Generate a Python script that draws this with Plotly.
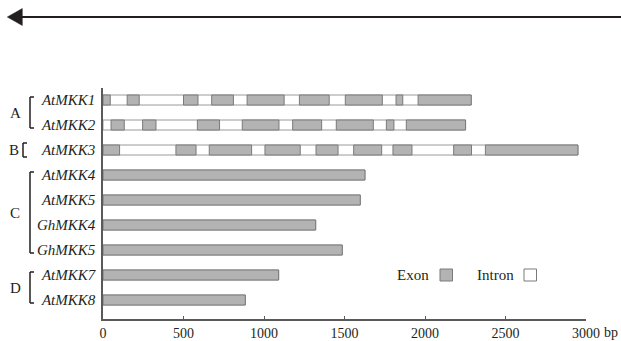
import plotly.graph_objects as go

# ---------------- data ----------------
genes = ["AtMKK1", "AtMKK2", "AtMKK3", "AtMKK4", "AtMKK5",
         "GhMKK4", "GhMKK5", "AtMKK7", "AtMKK8"]
gene_length = [2287, 2252, 2950, 1627, 1598, 1321, 1486, 1091, 884]
exon_starts = [
    [0, 150, 500, 675, 895, 1220, 1505, 1820, 1957],
    [50, 246, 586, 865, 1178, 1449, 1760, 1884],
    [0, 453, 660, 1006, 1323, 1557, 1801, 2178, 2375],
    [0], [0], [0], [0], [0], [0],
]
exon_ends = [
    [45, 225, 590, 810, 1125, 1405, 1735, 1862, 2287],
    [132, 329, 724, 1093, 1358, 1679, 1807, 2252],
    [103, 578, 923, 1225, 1460, 1731, 1919, 2289, 2950],
    [1627], [1598], [1321], [1486], [1091], [884],
]
groups = ["A", "B", "C", "D"]
group_first = [0, 2, 3, 7]
group_last = [1, 2, 6, 8]
x_ticks = [0, 500, 1000, 1500, 2000, 2500, 3000]
x_unit = "bp"

# ---------------- style ----------------
W, H = 621, 341
ML, MR, MT, MB = 103, 35, 88, 22
PW, PH = W - ML - MR, H - MT - MB
TXT = "#231f20"
EXON_FILL = "#b3b3b3"
EXON_LINE = "#7a7a7a"
INTRON_LINE = "#9a9a9a"
AXIS = "#5a5a5a"
SERIF = "Liberation Serif, Times New Roman, serif"


def px(xp):
    return (xp - ML) / PW


def py(yp):
    return (H - MB - yp) / PH


fig = go.Figure()

# whole gene (intron background)
fig.add_trace(go.Bar(
    y=genes, x=gene_length, base=[0] * len(genes), orientation="h",
    width=0.4, marker=dict(color="white", line=dict(color=INTRON_LINE, width=1)),
    showlegend=False, hoverinfo="skip"))

# exons
ey, ex, eb = [], [], []
for g, ss, ee in zip(genes, exon_starts, exon_ends):
    for s, e in zip(ss, ee):
        ey.append(g)
        ex.append(e - s)
        eb.append(s)
fig.add_trace(go.Bar(
    y=ey, x=ex, base=eb, orientation="h", width=0.4,
    marker=dict(color=EXON_FILL, line=dict(color=EXON_LINE, width=1)),
    showlegend=False))

shapes = []
annotations = []

# brackets and group letters
for gname, a, b in zip(groups, group_first, group_last):
    if a == b:
        xv, xt = px(23), px(27)
        y0, y1 = a - 0.28, a + 0.28
        xl = px(13.5)
    else:
        xv, xt = px(30), px(34)
        y0, y1 = a - 0.12, b + 0.12
        xl = px(15)
    for (x0, yy0, x1, yy1) in [(xv, y0, xv, y1), (xv, y0, xt, y0), (xv, y1, xt, y1)]:
        shapes.append(dict(type="line", xref="paper", yref="y",
                           x0=x0, y0=yy0, x1=x1, y1=yy1,
                           line=dict(color=TXT, width=1.5)))
    annotations.append(dict(xref="paper", yref="y", x=xl, y=(a + b) / 2,
                            text=gname, showarrow=False, xanchor="center",
                            yanchor="middle",
                            font=dict(family=SERIF, size=15, color=TXT)))

# top arrow (direction)
shapes.append(dict(type="line", xref="paper", yref="paper",
                   x0=px(20), x1=px(W + 2), y0=py(17), y1=py(17),
                   line=dict(color=TXT, width=2)))
shapes.append(dict(type="path", xref="paper", yref="paper",
                   path=f"M {px(7.3)} {py(17)} L {px(22.3)} {py(8.5)} L {px(22.3)} {py(25.5)} Z",
                   fillcolor=TXT, line=dict(color=TXT, width=0.5)))

# legend
annotations.append(dict(xref="paper", yref="paper", x=px(431), y=py(274.5),
                        text="Exon", showarrow=False, xanchor="right",
                        yanchor="middle", font=dict(family=SERIF, size=15, color=TXT)))
shapes.append(dict(type="rect", xref="paper", yref="paper",
                   x0=px(440), x1=px(452.5), y0=py(269), y1=py(281),
                   fillcolor=EXON_FILL, line=dict(color=EXON_LINE, width=1)))
annotations.append(dict(xref="paper", yref="paper", x=px(516), y=py(274.5),
                        text="Intron", showarrow=False, xanchor="right",
                        yanchor="middle", font=dict(family=SERIF, size=15, color=TXT)))
shapes.append(dict(type="rect", xref="paper", yref="paper",
                   x0=px(524), x1=px(536.5), y0=py(269), y1=py(281),
                   fillcolor="white", line=dict(color=EXON_LINE, width=1)))

# unit after last tick
annotations.append(dict(xref="paper", yref="paper", x=px(602), y=py(332),
                        text=x_unit, showarrow=False, xanchor="left",
                        yanchor="middle", font=dict(family=SERIF, size=14, color=TXT)))

fig.update_layout(
    width=W, height=H,
    margin=dict(l=ML, r=MR, t=MT, b=MB, pad=0, autoexpand=False),
    paper_bgcolor="white", plot_bgcolor="white",
    barmode="overlay",
    shapes=shapes, annotations=annotations,
    xaxis=dict(range=[0, 3000], tickvals=x_ticks,
               ticktext=[str(v) for v in x_ticks],
               ticks="inside", ticklen=3, tickcolor=AXIS, tickwidth=1,
               showline=True, linecolor=AXIS, linewidth=1.5,
               showgrid=False, zeroline=False, automargin=False,
               ticklabelstandoff=0,
               tickfont=dict(family=SERIF, size=14, color=TXT)),
    yaxis=dict(type="category", categoryarray=genes, categoryorder="array",
               range=[8.76, -0.48],
               tickvals=genes, ticktext=[f"<i>{g}</i>" for g in genes],
               ticks="", showline=True, linecolor=AXIS, linewidth=1.5,
               showgrid=False, zeroline=False, ticklabelstandoff=3,
               automargin=False,
               tickfont=dict(family=SERIF, size=15, color=TXT)),
)

fig.write_html("out.html", config={"displayModeBar": False},
               post_script="document.body.style.margin='0';document.body.style.overflow='hidden';")
